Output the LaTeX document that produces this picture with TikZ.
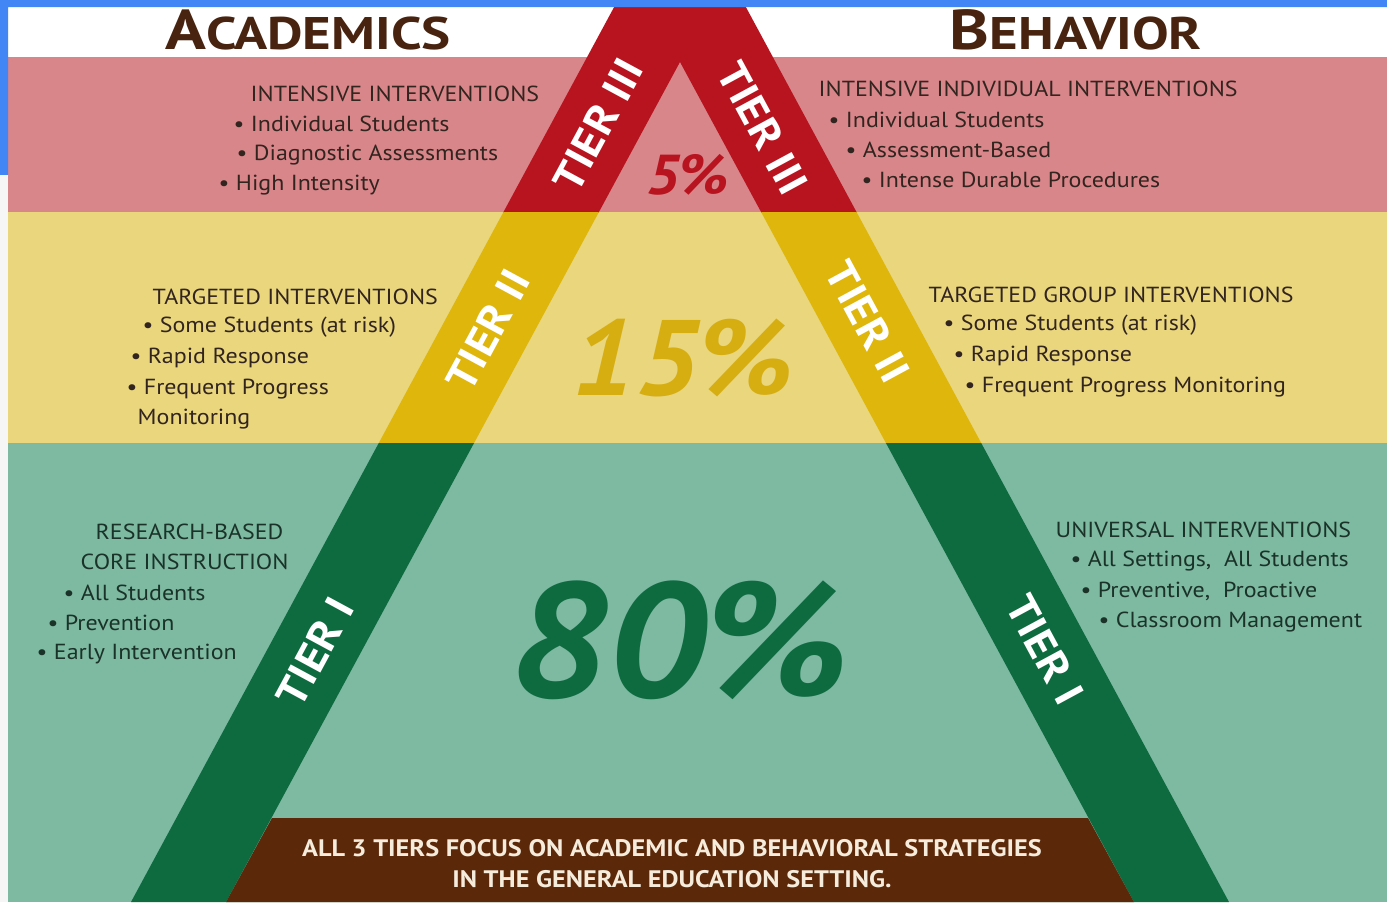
\documentclass[tikz,border=0pt]{standalone}
\usepackage{fontspec}
\setmainfont{PT Sans}[FakeStretch=1.1]
\newfontfamily\titlefont{PT Sans}[FakeStretch=1.2]
\definecolor{frameblue}{RGB}{66,133,244}
\definecolor{framegrey}{RGB}{246,246,246}
\definecolor{pinkband}{RGB}{216,134,138}
\definecolor{yellowband}{RGB}{233,214,125}
\definecolor{greenband}{RGB}{126,185,162}
\definecolor{tierred}{RGB}{183,20,32}
\definecolor{tieryellow}{RGB}{222,182,12}
\definecolor{tiergreen}{RGB}{14,107,64}
\definecolor{basebrown}{RGB}{92,40,10}
\definecolor{titlebrown}{RGB}{72,36,16}
\definecolor{bodytext}{RGB}{50,36,30}
\definecolor{greentext}{RGB}{26,50,40}
\definecolor{basetext}{RGB}{245,236,220}
\definecolor{pctyellow}{RGB}{214,174,18}
\begin{document}
\begin{tikzpicture}[font=\fontsize{6.2}{7}\selectfont, declare function={s=0.54; w=13.87; h=9.02; c=6.80;},
		lbl/.style={anchor=west, inner sep=0pt, text=bodytext},
		glbl/.style={lbl, text=greentext},
		tier/.style={text=white, inner sep=0pt, font=\bfseries\fontsize{12}{12}\selectfont},
		title/.style={text=titlebrown, inner sep=0pt, font=\titlefont\bfseries\fontsize{13}{13}\selectfont},
		pct/.style={inner sep=0pt, font=\bfseries\itshape\fontsize{#1}{#1}\selectfont}]
				\useasboundingbox (0,0) rectangle (w,h);
				\clip (0,0) rectangle (w,h);
				\path (c,10.17) coordinate (A) (c-5.49,0) coordinate (B) (c+5.49,0) coordinate (C) (c,8.40) coordinate (A') (c-4.54,0) coordinate (B') (c+4.54,0) coordinate (C');
				\fill[white] (0,8.45) rectangle (w,h);
				\fill[pinkband] (0,6.90) rectangle (w,8.45);
				\fill[yellowband] (0,4.59) rectangle (w,6.90);
				\fill[greenband] (0,0) rectangle (w,4.59);
				\foreach \col/\lo/\hi in {tierred/6.90/9.02, tieryellow/4.59/6.90, tiergreen/0/4.59}{
				\begin{scope}
				\clip (0,\lo) rectangle (w,\hi);
				\fill[\col, even odd rule] (A)--(B)--(C)--cycle (A')--(B')--(C')--cycle;
				\end{scope}
				}
				\fill[basebrown] (B')--(c-4.08,0.84)--(c+4.08,0.84)--(C')--cycle;
				\fill[frameblue] (0,8.95) rectangle (w,h) (0,7.27) rectangle (0.08,h);
				\fill[framegrey] (0,0) rectangle (0.08,7.27);
				\node[title] (acad) at (3.08,8.72) {{\fontsize{16}{16}\selectfont A}CADEMICS};
				\node[title] (behav) at (10.76,8.72) {{\fontsize{16}{16}\selectfont B}EHAVIOR};
				\foreach \x/\y/\t [count=\i] in {2.50/8.08/{INTENSIVE INTERVENTIONS}, 2.33/7.78/{• Individual Students}, 2.36/7.47/{• Diagnostic Assessments}, 2.18/7.17/{• High Intensity},
				8.18/8.13/{INTENSIVE INDIVIDUAL INTERVENTIONS}, 8.28/7.82/{• Individual Students}, 8.45/7.52/{• Assessment-Based}, 8.61/7.22/{• Intense Durable Procedures},
				1.52/6.05/{TARGETED INTERVENTIONS}, 1.42/5.75/{• Some Students (at risk)}, 1.30/5.44/{• Rapid Response}, 1.26/5.13/{• Frequent Progress}, 1.37/4.83/{Monitoring},
				9.28/6.07/{TARGETED GROUP INTERVENTIONS}, 9.43/5.77/{• Some Students (at risk)}, 9.53/5.46/{• Rapid Response}, 9.64/5.15/{• Frequent Progress Monitoring}}{
				\node[lbl] (txt\i) at (\x,\y) {\t};
				}
				\foreach \x/\y/\t [count=\i] in {0.95/3.70/{RESEARCH-BASED}, 0.80/3.40/{CORE INSTRUCTION}, 0.63/3.09/{• All Students}, 0.47/2.79/{• Prevention}, 0.36/2.48/{• Early Intervention},
				10.55/3.72/{UNIVERSAL INTERVENTIONS}, 10.70/3.41/{• All Settings,\ \ All Students}, 10.80/3.11/{• Preventive,\ \ Proactive}, 10.98/2.80/{• Classroom Management}}{
				\node[glbl] (gtxt\i) at (\x,\y) {\t};
				}
				\foreach \n/\x/\y/\a/\t in {t3l/5.98/7.77/61.6/{TIER III}, t3r/7.63/7.74/-61.6/{TIER III}, t2l/4.88/5.72/61.6/{TIER II}, t2r/8.68/5.80/-61.6/{TIER II}, t1l/3.15/2.50/61.6/{TIER I}, t1r/10.45/2.52/-61.6/{TIER I}}{
				\node[tier, rotate=\a] (\n) at (\x,\y) {\t};
				}
				\node[pct=16, text=tierred] (p5) at (6.88,7.27) {5\%};
				\node[pct=30.5, text=pctyellow] (p15) at (6.83,5.44) {15\%};
				\node[pct=46.5, text=tiergreen] (p80) at (6.80,2.62) {80\%};
				\node[text=basetext, align=center, inner sep=0pt, font=\bfseries\fontsize{6.8}{8.8}\selectfont] (base) at (6.72,0.385) {ALL 3 TIERS FOCUS ON ACADEMIC AND BEHAVIORAL STRATEGIES\\IN THE GENERAL EDUCATION SETTING.};
			\end{tikzpicture}
\end{document}
